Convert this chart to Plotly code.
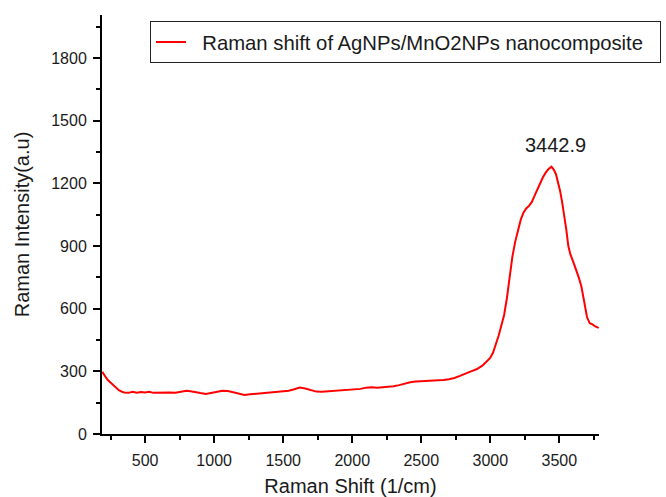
import plotly.graph_objects as go

# Raman shift (1/cm) and intensity (a.u.)
shift = [190, 200, 215, 230, 250, 270, 290, 310, 330, 350, 380, 410, 440, 470, 500,
         530, 560, 600, 640, 680, 720, 760, 800, 830, 860, 900, 940, 980, 1020, 1060,
         1100, 1140, 1180, 1220, 1260, 1300, 1340, 1380, 1420, 1460, 1500, 1540, 1580,
         1620, 1660, 1700, 1740, 1780, 1820, 1860, 1900, 1940, 1980, 2020, 2060, 2100,
         2140, 2180, 2220, 2260, 2300, 2340, 2380, 2420, 2460, 2500, 2540, 2580, 2620,
         2660, 2700, 2740, 2780, 2820, 2860, 2900, 2940, 2970, 3000, 3020, 3040, 3060,
         3080, 3100, 3120, 3140, 3160, 3180, 3200, 3220, 3240, 3260, 3280, 3300, 3320,
         3340, 3360, 3380, 3400, 3420, 3442.9, 3460, 3475, 3490, 3505, 3520, 3535, 3550,
         3565, 3580, 3600, 3620, 3640, 3660, 3680, 3700, 3720, 3740, 3760, 3785]
intensity = [298, 285, 272, 258, 245, 232, 220, 210, 203, 199, 197, 202, 198, 201, 199,
             202, 197, 198, 196, 199, 197, 202, 207, 205, 200, 196, 192, 197, 202, 207,
             206, 199, 193, 187, 190, 192, 194, 198, 200, 203, 205, 207, 214,
             222, 218, 209, 203, 202, 204, 205, 207, 209, 211, 213, 216, 222,
             224, 222, 224, 226, 229, 234, 241, 248, 251, 252, 253, 254, 254,
             258, 262, 268, 278, 290, 300, 310, 326, 345, 365, 390, 425, 470,
             520, 570, 650, 750, 850, 920, 975, 1025, 1060, 1080, 1092, 1110, 1140,
             1170, 1200, 1228, 1250, 1268, 1280, 1265, 1245, 1210, 1165, 1110, 1050, 980,
             900, 860, 825, 790, 750, 705, 640, 560, 530, 525, 515, 508]

series_name = "Raman shift of AgNPs/MnO2NPs nanocomposite"
peak_label = "3442.9"
peak_pos = (3470, 1386)

FONT = "Liberation Sans, Arial, sans-serif"
TXT = "#1a1a1a"
NB = "\u00a0"

fig = go.Figure()
fig.add_trace(go.Scatter(x=shift, y=intensity, mode="lines",
                         name=NB * 2 + series_name + NB * 2,
                         line=dict(color="#ff0000", width=2)))

fig.add_annotation(x=peak_pos[0], y=peak_pos[1], text=peak_label, showarrow=False,
                   xanchor="center", yanchor="middle",
                   font=dict(family=FONT, size=20, color=TXT))

axis_common = dict(showgrid=False, zeroline=False, showline=True, linecolor="black",
                   linewidth=2, ticks="outside", ticklen=7, tickwidth=1.5,
                   tickcolor="black", mirror=False, automargin=False,
                   tickfont=dict(family=FONT, size=16, color=TXT))

fig.update_xaxes(range=[188, 3787], dtick=500, tick0=0,
                 minor=dict(dtick=250, tick0=0, ticks="outside", ticklen=4,
                            tickwidth=1.5, tickcolor="black"),
                 title=dict(text="Raman Shift (1/cm)", standoff=13,
                            font=dict(family=FONT, size=20, color=TXT)),
                 ticklabelstandoff=4,
                 **axis_common)
fig.update_yaxes(range=[0, 2006], dtick=300, tick0=0,
                 minor=dict(dtick=150, tick0=0, ticks="outside", ticklen=4,
                            tickwidth=1.5, tickcolor="black"),
                 title=dict(text="Raman Intensity(a.u)", standoff=16,
                            font=dict(family=FONT, size=20, color=TXT)),
                 ticklabelstandoff=3,
                 **axis_common)

fig.update_layout(
    width=666, height=497,
    margin=dict(l=102, r=67, t=15, b=63, autoexpand=False),
    paper_bgcolor="white", plot_bgcolor="white",
    font=dict(family=FONT, color=TXT),
    showlegend=True,
    legend=dict(x=(150 - 102) / 497, y=0.985, xanchor="left", yanchor="top",
                bgcolor="white", bordercolor="#222", borderwidth=1,
                font=dict(family=FONT, size=20.3, color=TXT),
                itemwidth=30, tracegroupgap=0),
)

fig.write_html("out.html")
